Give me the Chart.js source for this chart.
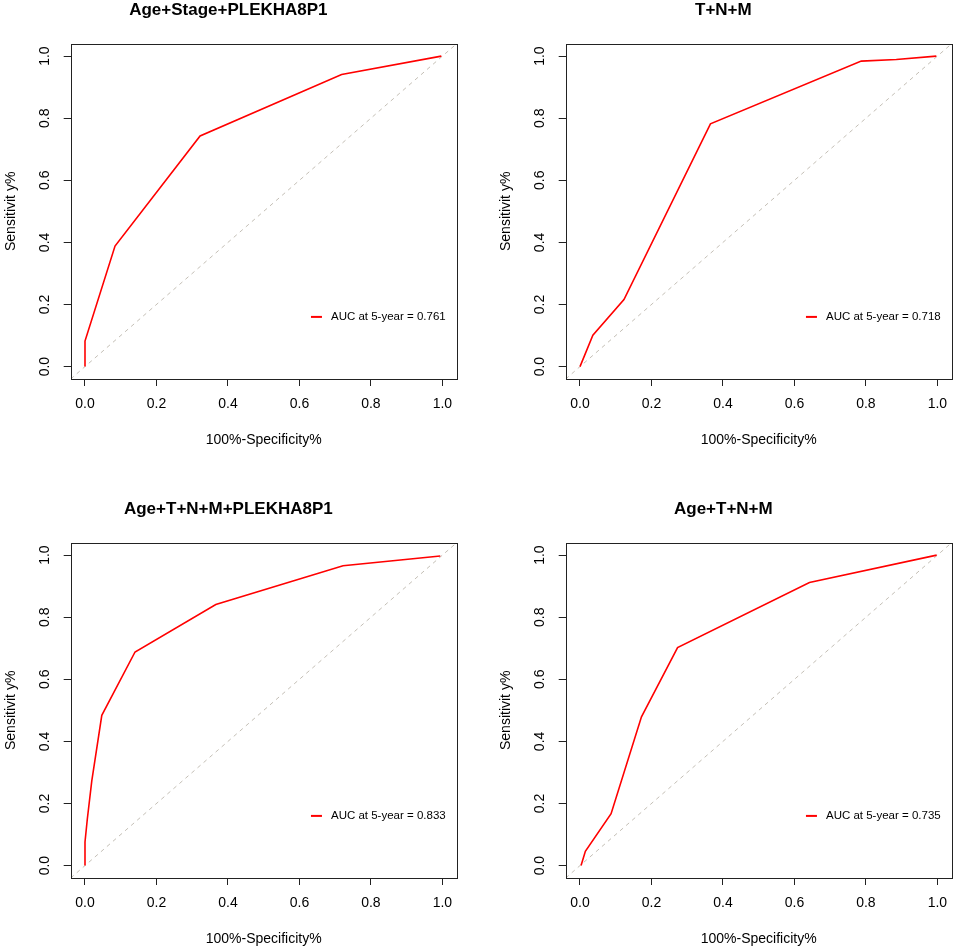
<!DOCTYPE html>
<html>
<head>
<meta charset="utf-8">
<script src="https://cdn.jsdelivr.net/npm/chart.js@4.4.1/dist/chart.umd.min.js"></script>
<style>
  html, body { margin: 0; padding: 0; background: #fff; overflow: hidden; }
  body { width: 957px; height: 949px; position: relative; }
  canvas { position: absolute; pointer-events: none; }
</style>
</head>
<body>
<canvas id="p1" width="528" height="470" style="left:0px;top:0px"></canvas>
<canvas id="p2" width="528" height="470" style="left:495px;top:0px"></canvas>
<canvas id="p3" width="528" height="470" style="left:0px;top:498.5px"></canvas>
<canvas id="p4" width="528" height="470" style="left:495px;top:498.5px"></canvas>
<script>
const xTickValues = [0, 0.2, 0.4, 0.6, 0.8, 1.0];
const xTickLabels = ["0.0", "0.2", "0.4", "0.6", "0.8", "1.0"];
const yTickValues = [0, 0.2, 0.4, 0.6, 0.8, 1.0];
const yTickLabels = ["0.0", "0.2", "0.4", "0.6", "0.8", "1.0"];
const axisRange = [-0.04, 1.04];

const titles = ["Age+Stage+PLEKHA8P1", "T+N+M", "Age+T+N+M+PLEKHA8P1", "Age+T+N+M"];
const aucLabels = ["AUC at 5-year = 0.761", "AUC at 5-year = 0.718",
                   "AUC at 5-year = 0.833", "AUC at 5-year = 0.735"];

// ROC points, false positive rate / true positive rate
const p1Fpr = [0, 0, 0.084, 0.322, 0.718, 0.997];
const p1Tpr = [0, 0.082, 0.388, 0.743, 0.941, 1.0];

const p2Fpr = [0, 0.036, 0.123, 0.365, 0.787, 0.885, 0.997];
const p2Tpr = [0, 0.101, 0.216, 0.782, 0.984, 0.989, 1.0];

const p3Fpr = [0, 0, 0.0065, 0.019, 0.047, 0.14, 0.366, 0.722, 0.994];
const p3Tpr = [0, 0.076, 0.15, 0.273, 0.484, 0.688, 0.841, 0.966, 0.997];

const p4Fpr = [0.003, 0.015, 0.087, 0.172, 0.273, 0.642, 0.998];
const p4Tpr = [0, 0.046, 0.167, 0.479, 0.702, 0.912, 1.0];

const FONT = '"Liberation Sans", Arial, sans-serif';
Chart.defaults.font.family = FONT;
Chart.defaults.color = "#000";

const boxAndLegend = {
    id: "boxAndLegend",
    afterDatasetsDraw(chart, args, opts) {
        const { ctx, chartArea } = chart;
        ctx.save();
        ctx.strokeStyle = "#222";
        ctx.lineWidth = 1;
        ctx.strokeRect(Math.round(chartArea.left) + 0.5, Math.round(chartArea.top) + 0.5,
            Math.round(chartArea.right - chartArea.left), Math.round(chartArea.bottom - chartArea.top));

        ctx.font = "11.5px " + FONT;
        const w = ctx.measureText(opts.text).width;
        const textX = chartArea.right - 11 - w;
        const y = chart.scales.y.getPixelForValue(opts.y);
        ctx.strokeStyle = "#ff0000";
        ctx.lineWidth = 2;
        ctx.beginPath();
        ctx.moveTo(textX - 20, y);
        ctx.lineTo(textX - 9, y);
        ctx.stroke();
        ctx.fillStyle = "#000";
        ctx.textBaseline = "middle";
        ctx.textAlign = "left";
        ctx.fillText(opts.text, textX, y);
        ctx.restore();
    }
};

function makePanel(id, title, fpr, tpr, auc) {
    const curve = fpr.map((x, i) => ({ x: x, y: tpr[i] }));
    const diag = axisRange.map(v => ({ x: v, y: v }));

    new Chart(document.getElementById(id), {
        type: "scatter",
        data: {
            datasets: [
                {
                    data: curve,
                    showLine: true,
                    borderColor: "#ff0000",
                    borderWidth: 1.6,
                    pointRadius: 0,
                    tension: 0
                },
                {
                    data: diag,
                    showLine: true,
                    borderColor: "#c4bfb6",
                    borderWidth: 1,
                    borderDash: [4, 4],
                    pointRadius: 0
                }
            ]
        },
        options: {
            responsive: false,
            animation: false,
            layout: { padding: { left: 0, right: 71.3, top: 0, bottom: 0 } },
            plugins: {
                legend: { display: false },
                tooltip: { enabled: false },
                title: {
                    display: true,
                    text: title,
                    color: "#000",
                    font: { size: 17, weight: "bold" },
                    padding: { top: 0.5, bottom: 22.8 }
                },
                boxAndLegend: { text: auc, y: 0.16 }
            },
            scales: {
                x: {
                    type: "linear",
                    min: axisRange[0],
                    max: axisRange[1],
                    afterBuildTicks: s => { s.ticks = xTickValues.map(v => ({ value: v })); },
                    afterFit: s => { s.height = 91; },
                    ticks: {
                        callback: (v, i) => xTickLabels[i],
                        font: { size: 14 },
                        color: "#000",
                        padding: 10,
                        autoSkip: false,
                        maxRotation: 0
                    },
                    grid: { drawOnChartArea: false, tickLength: 7, color: "#222" },
                    border: { display: false },
                    title: {
                        display: true,
                        text: "100%-Specificity%",
                        color: "#000",
                        font: { size: 14 },
                        padding: { top: 0, bottom: 21.5 }
                    }
                },
                y: {
                    type: "linear",
                    min: axisRange[0],
                    max: axisRange[1],
                    afterBuildTicks: s => { s.ticks = yTickValues.map(v => ({ value: v })); },
                    afterFit: s => { s.width = 70.7; },
                    ticks: {
                        callback: (v, i) => yTickLabels[i],
                        font: { size: 14 },
                        color: "#000",
                        padding: 8.5,
                        autoSkip: false,
                        minRotation: 90,
                        maxRotation: 90,
                        crossAlign: "center"
                    },
                    grid: { drawOnChartArea: false, tickLength: 7, color: "#222" },
                    border: { display: false },
                    title: {
                        display: true,
                        text: "Sensitivit y%",
                        color: "#000",
                        font: { size: 14 },
                        padding: { top: 2.6, bottom: 0 }
                    }
                }
            }
        },
        plugins: [boxAndLegend]
    });
}

makePanel("p1", titles[0], p1Fpr, p1Tpr, aucLabels[0]);
makePanel("p2", titles[1], p2Fpr, p2Tpr, aucLabels[1]);
makePanel("p3", titles[2], p3Fpr, p3Tpr, aucLabels[2]);
makePanel("p4", titles[3], p4Fpr, p4Tpr, aucLabels[3]);
</script>
</body>
</html>
